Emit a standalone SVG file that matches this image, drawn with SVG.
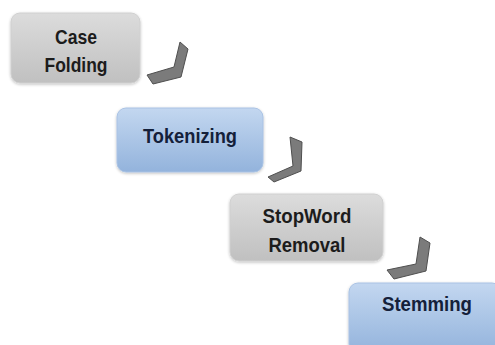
<svg xmlns="http://www.w3.org/2000/svg" width="495" height="345" viewBox="0 0 495 345">
<defs>
<linearGradient id="grey" x1="0" y1="0" x2="0" y2="1">
<stop offset="0" stop-color="#dcdcdc"/>
<stop offset="1" stop-color="#c0c0c0"/>
</linearGradient>
<linearGradient id="blue" x1="0" y1="0" x2="0" y2="1">
<stop offset="0" stop-color="#c3d7f0"/>
<stop offset="1" stop-color="#93b3dc"/>
</linearGradient>
<filter id="sh" x="-10%" y="-10%" width="120%" height="130%">
<feGaussianBlur in="SourceAlpha" stdDeviation="1.5"/>
<feOffset dx="0" dy="1" result="b"/>
<feComponentTransfer><feFuncA type="linear" slope="0.25"/></feComponentTransfer>
<feMerge><feMergeNode/><feMergeNode in="SourceGraphic"/></feMerge>
</filter>
</defs>
<style>
.g{fill:url(#grey);stroke:#d0d0d0;stroke-width:1;filter:url(#sh)}
.b{fill:url(#blue);stroke:#a9c2e4;stroke-width:1;filter:url(#sh)}
.t{font-family:"Liberation Sans",Arial,sans-serif;font-weight:bold;font-size:20.5px;text-anchor:middle;fill:#1c1c1c}
.tb{fill:#14203a}
.c{fill:#7b7b7b;stroke:#4f4f4f;stroke-width:1;stroke-linejoin:round}
</style>
<rect width="495" height="345" fill="#ffffff"/>
<g id="case-folding">
<rect class="g" x="11" y="13" width="129" height="70" rx="9"/>
<text class="t" x="76" y="44" textLength="42" lengthAdjust="spacingAndGlyphs">Case</text>
<text class="t" x="76" y="72" textLength="63" lengthAdjust="spacingAndGlyphs">Folding</text>
</g>
<g id="tokenizing">
<rect class="b" x="117" y="108" width="146" height="64" rx="9"/>
<text class="t tb" x="190" y="143" textLength="94" lengthAdjust="spacingAndGlyphs">Tokenizing</text>
</g>
<g id="stopword-removal">
<rect class="g" x="230" y="194" width="153" height="67" rx="9"/>
<text class="t" x="307" y="223" textLength="89" lengthAdjust="spacingAndGlyphs">StopWord</text>
<text class="t" x="307" y="252" textLength="77" lengthAdjust="spacingAndGlyphs">Removal</text>
</g>
<g id="stemming">
<rect class="b" x="349" y="283" width="152" height="70" rx="9"/>
<text class="t tb" x="427" y="311" textLength="90" lengthAdjust="spacingAndGlyphs">Stemming</text>
</g>
<g id="connectors">
<polygon class="c" points="147,75 174,67 180,42 188,49 181,77 153,84"/>
<polygon class="c" points="268,177 293,166 290,137 302,142 301,171 274,182"/>
<polygon class="c" points="387,270 416,264 420,237 430,243 426,271 394,279"/>
</g>
</svg>
